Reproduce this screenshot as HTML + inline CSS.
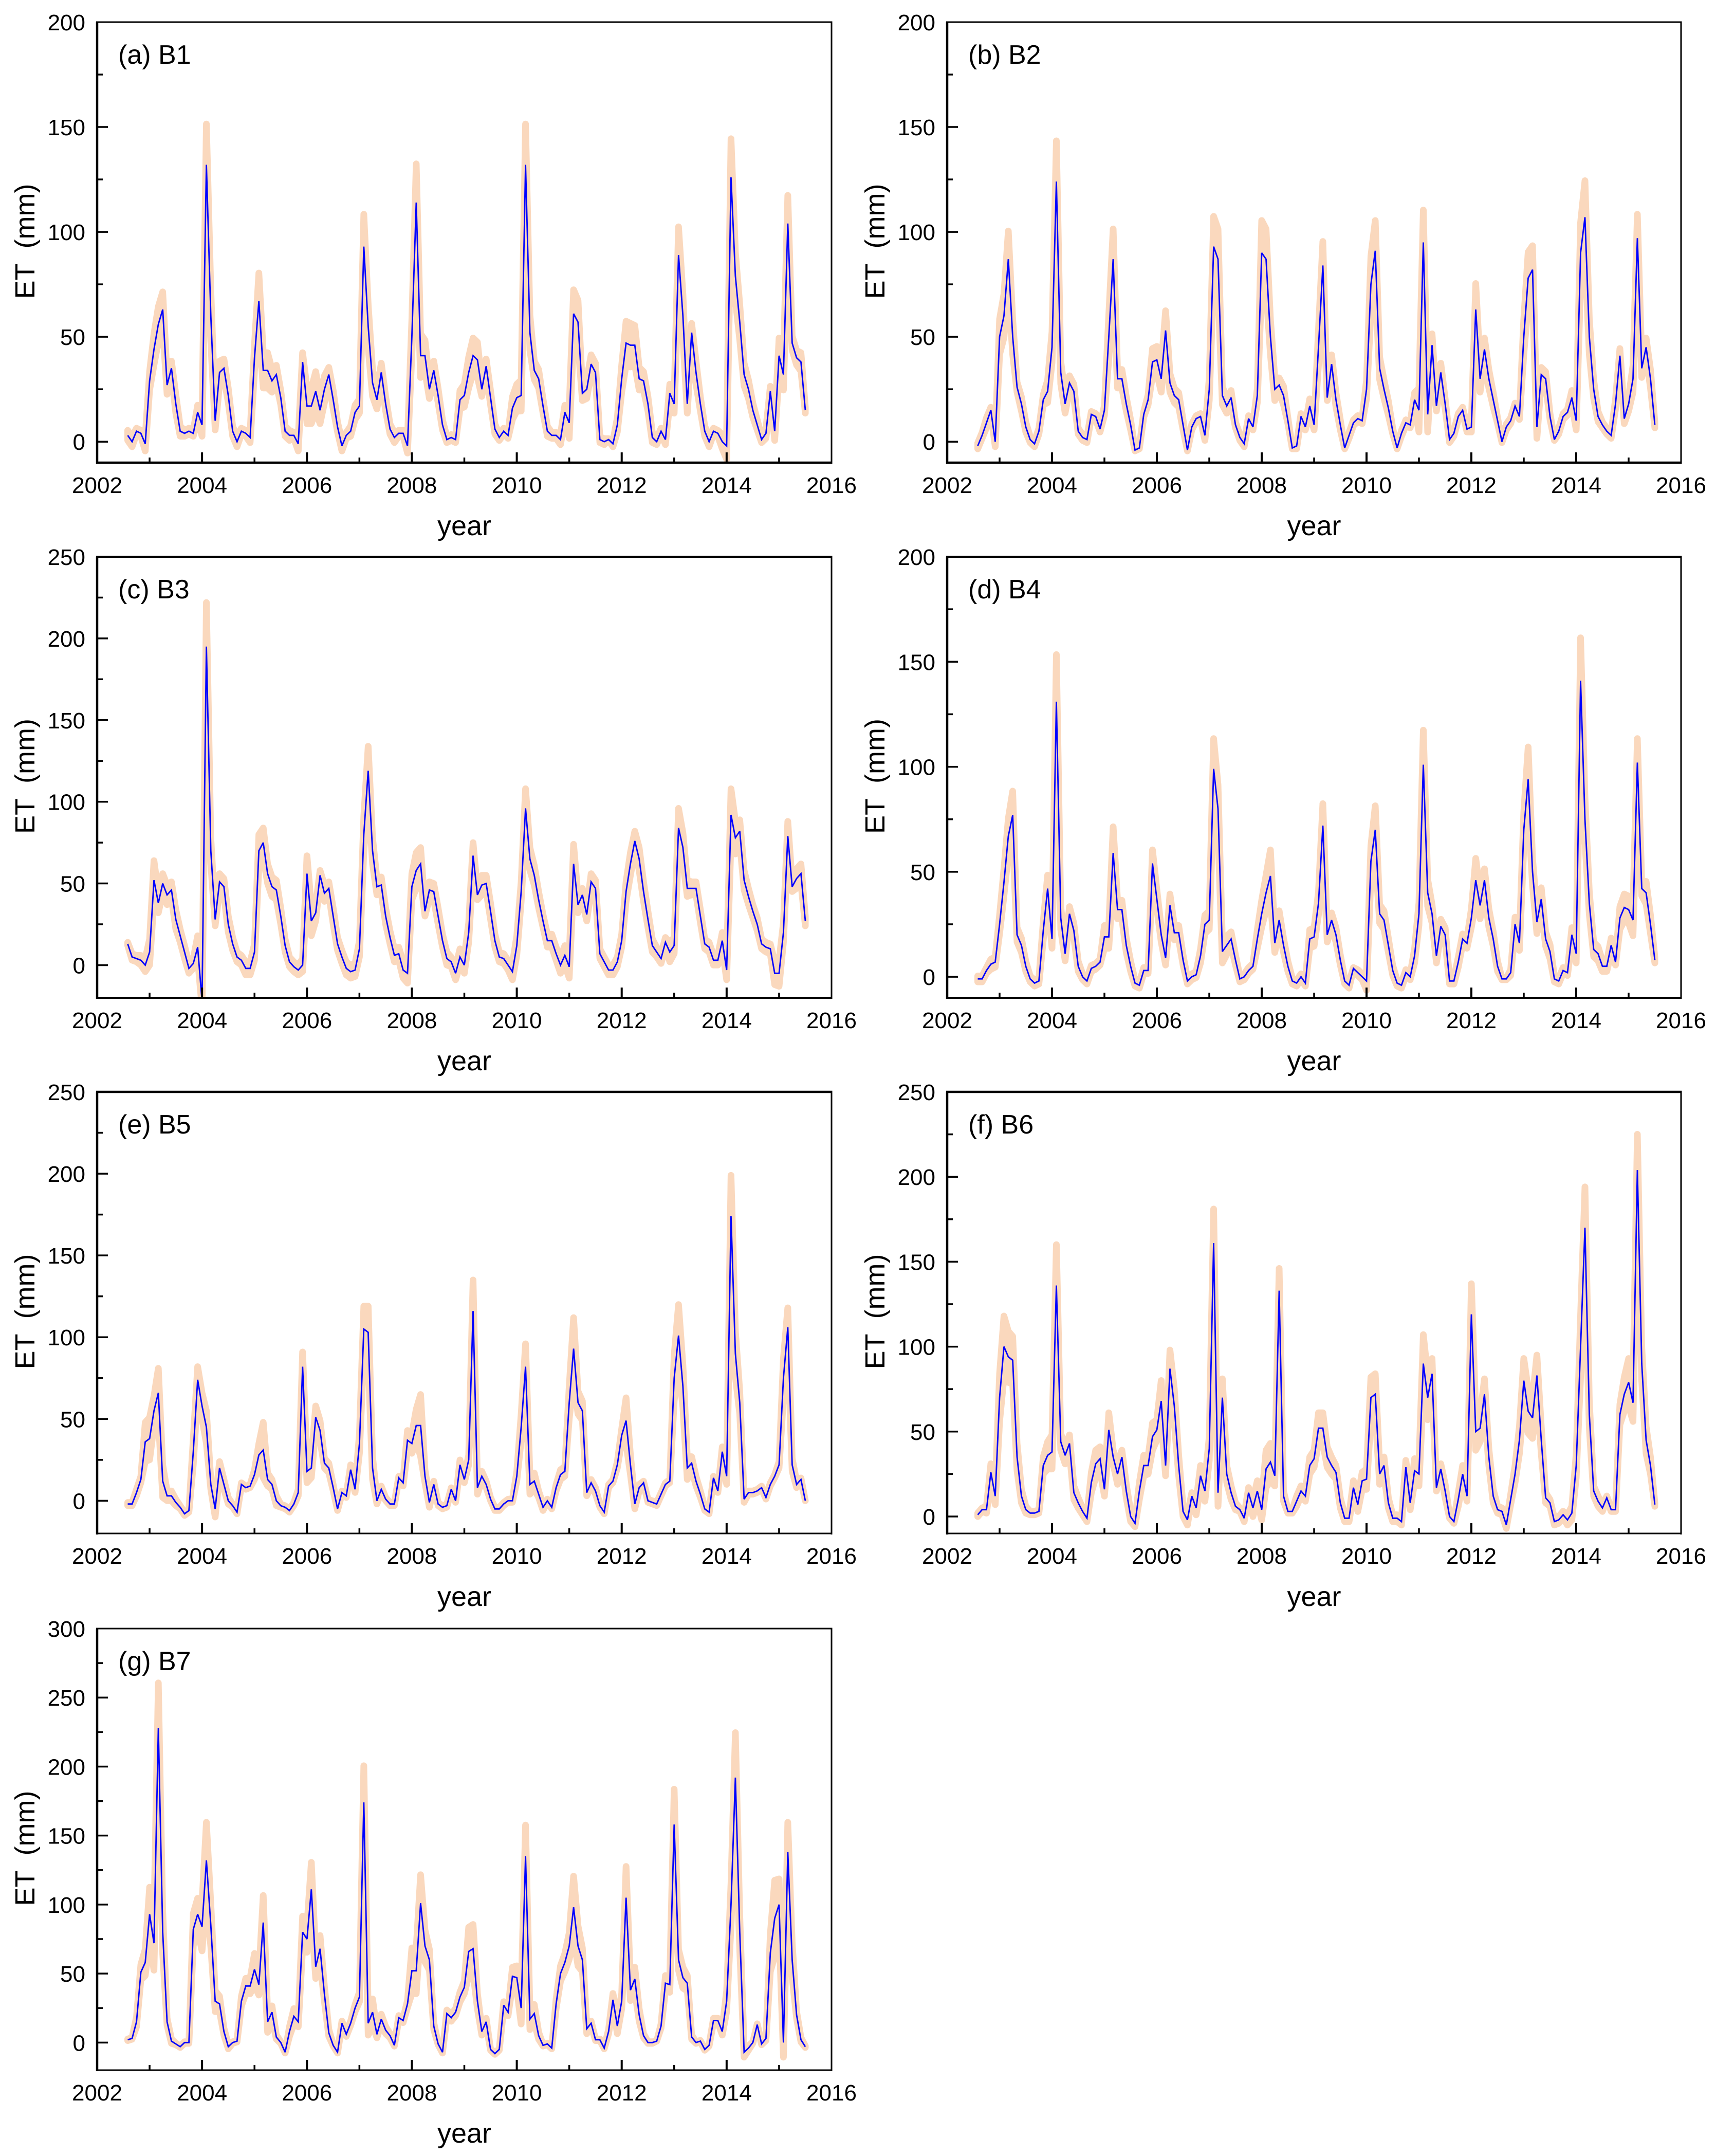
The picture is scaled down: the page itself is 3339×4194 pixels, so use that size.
<!DOCTYPE html>
<html lang="en">
<head>
<meta charset="utf-8">
<title>Monthly ET for basins B1 to B7</title>
<style>
html,body{margin:0;padding:0;background:#fff;}
svg{display:block;font-family:"Liberation Sans",Arial,sans-serif;}
</style>
</head>
<body>
<svg id="figure" xmlns="http://www.w3.org/2000/svg" width="3339" height="4194" viewBox="0 0 3339 4194"></svg>
<script>
const xTickLabels = [2002,2004,2006,2008,2010,2012,2014,2016];
const xMinorYears = [2003,2005,2007,2009,2011,2013,2015];
const firstYear = 2002;
const firstMonthIndex = 7;

const valuesB1 = [3,0,5,4,-1,
29,44,56,63,27,35,18,5,4,5,4,14,
8,132,60,10,33,35,22,5,0,5,4,2,
40,67,34,34,29,32,21,5,3,3,-1,38,
17,17,24,15,25,32,20,7,-2,3,5,14,
17,93,55,28,20,33,18,6,2,4,4,-2,
50,114,41,41,25,34,22,8,1,2,1,20,
22,33,41,39,25,36,21,6,2,5,3,16,
21,22,132,52,34,30,17,5,3,3,1,14,
9,61,57,23,25,37,33,1,0,1,-1,8,
30,47,46,46,30,29,18,2,0,5,1,23,
18,89,60,18,52,33,18,5,0,5,4,0,
-2,126,79,57,32,25,15,8,1,4,24,5,
41,32,104,47,40,38,15];
const errorsB1 = [4,4,3,3,5,
6,9,10,10,6,5,6,4,3,3,3,5,
7,21,14,6,7,6,5,4,4,3,3,4,
8,15,10,10,7,6,5,4,4,3,5,6,
10,10,11,8,8,5,6,4,4,3,4,5,
5,17,12,8,6,6,5,4,4,3,3,5,
10,20,12,9,6,6,5,4,3,3,3,6,
7,9,10,10,5,5,5,4,3,3,3,7,
8,9,21,10,6,6,5,4,3,3,4,5,
9,13,12,5,6,6,6,3,3,2,3,5,
8,12,12,11,7,6,5,4,3,3,4,6,
6,15,12,6,6,7,5,4,4,3,3,5,
8,20,13,10,7,6,5,4,3,4,4,6,
10,9,15,5,5,6,3];

const valuesB2 = [-2,3,9,15,0,
50,60,87,50,26,18,7,1,-1,5,20,24,
45,124,33,18,28,24,5,2,1,13,12,6,
15,50,87,30,30,18,8,-4,-3,13,20,38,
39,30,53,28,22,20,8,-4,7,11,12,3,
25,93,87,22,17,21,8,2,-1,11,7,22,
90,87,50,25,27,22,10,-3,-2,12,7,17,
8,45,84,21,37,20,8,-3,3,9,11,10,
25,75,91,35,25,16,5,-3,4,9,8,20,
15,95,13,46,17,33,18,1,4,12,15,6,
7,63,30,44,30,20,10,0,7,10,17,12,
50,78,82,7,32,30,12,1,5,12,14,21,
10,90,107,50,25,12,8,5,3,18,41,11,
18,30,97,35,45,30,8];
const errorsB2 = [3,3,4,3,4,
10,12,15,10,4,5,4,3,3,3,4,7,
9,21,7,6,5,5,3,3,3,3,3,3,
4,12,16,6,6,5,4,2,2,3,4,8,
8,8,11,6,5,5,4,2,3,3,3,4,
7,16,16,6,5,5,3,3,3,3,3,5,
17,16,10,7,5,6,3,2,3,3,3,5,
4,10,13,3,6,5,4,2,3,3,3,3,
6,15,16,7,6,5,3,2,3,3,3,5,
12,17,10,7,4,6,4,3,3,3,3,3,
4,14,8,7,6,5,3,2,3,3,3,3,
10,14,13,7,5,5,3,2,3,3,3,5,
6,16,19,10,6,4,3,3,3,4,5,4,
5,8,13,6,6,6,3];

const valuesB3 = [13,5,4,3,0,
8,52,38,50,43,46,28,18,8,-2,1,11,
-22,195,70,28,51,48,25,13,5,3,-2,-2,
8,70,75,56,48,46,30,12,2,-1,-3,0,
56,27,32,55,44,47,30,13,5,-2,-4,-3,
10,80,119,70,48,49,30,17,6,7,-3,-5,
48,58,62,33,46,45,30,15,4,2,-5,5,
0,20,67,43,49,50,33,15,5,4,0,-4,
12,45,96,65,55,40,27,15,15,7,0,6,
-1,62,37,43,31,51,47,7,2,-3,-3,2,
15,45,62,76,65,45,28,12,8,4,14,8,
12,84,72,47,47,47,30,13,11,3,3,15,
-3,92,78,82,52,42,33,25,13,11,10,-5,
-5,20,79,48,53,56,27];
const errorsB3 = [3,4,4,5,6,
10,14,8,8,8,7,8,6,6,5,5,9,
6,29,10,6,7,7,7,6,5,5,6,6,
7,12,11,8,8,8,7,6,5,5,5,6,
13,11,7,5,7,6,7,6,6,6,6,6,
7,13,17,10,7,7,7,6,6,6,7,8,
10,13,12,5,7,7,7,6,6,5,6,7,
7,8,10,5,8,7,7,6,5,5,5,7,
8,8,14,9,8,7,6,6,6,6,7,8,
9,14,7,6,6,7,7,5,5,5,5,5,
6,8,9,8,9,8,7,6,5,5,5,8,
7,14,11,7,6,6,6,5,5,5,5,7,
8,18,12,9,8,7,6,6,5,5,5,9,
10,8,11,5,8,8,5];

const valuesB4 = [-1,-1,3,6,7,
25,45,67,77,20,15,5,-1,-3,-2,22,42,
18,131,28,11,30,22,5,0,-2,4,5,7,
19,19,59,32,32,15,5,-3,-4,3,3,54,
37,20,9,34,21,21,8,-2,0,1,10,25,
27,99,80,12,15,18,8,-1,0,3,5,18,
30,40,48,16,27,15,5,-2,-3,0,-3,18,
19,35,72,20,27,20,8,-2,-4,4,2,0,
-2,55,70,30,27,15,3,-3,-4,2,0,10,
30,101,40,30,10,24,20,-2,-2,7,18,16,
28,46,34,46,28,18,5,-1,-1,2,25,16,
70,94,50,26,37,18,12,-1,-2,3,2,20,
11,141,75,35,13,11,5,5,15,7,28,33,
32,27,102,42,40,25,8];
const errorsB4 = [3,3,3,4,4,
6,8,10,13,5,5,4,3,3,3,6,8,
6,24,7,5,5,5,4,3,3,3,3,3,
7,7,14,6,6,5,4,3,3,3,3,8,
6,5,5,7,5,5,4,3,3,3,5,6,
6,16,13,7,6,5,4,3,3,3,3,6,
8,10,14,6,6,5,4,3,3,3,3,6,
6,7,12,5,5,5,4,3,3,2,3,3,
6,9,13,6,6,5,4,3,3,3,3,5,
7,18,8,6,5,5,5,3,3,4,4,4,
6,12,8,7,6,5,4,2,2,3,5,5,
10,17,8,7,7,5,5,3,3,3,3,5,
6,22,12,7,5,5,4,4,5,3,7,8,
8,9,13,5,7,6,3];

const valuesB5 = [-2,-2,5,13,36,
38,55,66,12,3,3,-1,-4,-8,-6,30,74,
58,45,10,-5,20,10,0,-3,-7,10,8,9,
16,28,31,13,10,0,-3,-4,-6,-2,5,82,
18,20,51,43,23,20,8,-5,5,3,19,7,
35,105,103,20,0,7,1,-2,-2,14,11,37,
35,46,46,15,-1,10,-2,-4,-3,7,0,22,
13,25,116,8,15,10,1,-5,-5,-2,0,0,
15,45,82,10,12,4,-4,0,-4,8,16,18,
60,93,60,55,5,11,6,-3,-7,9,12,22,
40,49,22,-2,8,11,0,-1,-2,4,10,12,
75,101,70,20,23,12,4,-5,-7,14,6,30,
15,174,90,60,1,5,5,6,8,2,10,15,
22,75,106,22,10,13,0];
const errorsB5 = [3,3,4,4,14,
15,11,17,12,5,5,4,3,3,3,10,10,
10,12,5,7,6,5,4,3,3,3,3,3,
5,9,19,6,5,5,3,3,3,3,4,11,
9,8,9,8,5,5,4,3,3,3,5,4,
8,16,18,9,4,4,3,3,3,3,4,8,
8,12,21,6,5,4,3,3,3,3,3,5,
4,5,21,6,5,4,3,3,3,3,3,3,
5,10,16,8,7,4,4,3,3,4,5,5,
12,21,9,8,4,4,4,3,3,3,3,4,
6,16,8,5,4,3,3,3,3,3,3,3,
16,21,15,9,6,5,4,3,3,3,3,5,
7,27,16,9,4,3,3,3,3,3,3,3,
4,14,14,6,4,3,2];

const valuesB6 = [1,4,4,26,12,
70,100,94,92,35,12,4,2,2,3,30,36,
38,136,44,36,43,14,8,3,-1,20,31,34,
16,51,35,25,35,15,0,-4,15,30,30,47,
51,68,30,87,65,30,3,-2,12,5,24,15,
40,161,14,70,25,14,6,4,-1,14,5,15,
4,28,32,24,133,12,3,3,9,15,12,30,
34,52,52,35,30,26,8,-1,-1,17,7,21,
22,70,72,25,30,8,-1,-1,-3,29,8,27,
25,90,70,84,17,28,15,0,-3,10,25,12,
119,50,52,72,35,12,4,3,-5,10,25,45,
80,62,58,83,45,11,8,-3,-2,1,-2,2,
30,100,170,60,15,9,5,11,4,4,60,72,
79,67,204,90,45,30,7];
const errorsB6 = [3,3,4,7,7,
16,20,17,16,10,6,4,3,3,3,7,10,
12,26,7,7,7,6,5,4,4,8,10,9,
6,12,6,8,6,6,5,4,7,8,7,10,
8,14,8,13,12,8,5,5,4,6,8,8,
9,22,10,13,7,6,4,3,4,5,7,8,
8,13,13,8,15,5,3,3,5,5,5,7,
7,11,11,8,7,6,5,4,4,6,6,7,
8,14,14,8,7,5,4,4,4,6,6,9,
9,19,15,11,4,5,6,3,3,6,7,5,
20,13,10,11,7,6,4,4,4,5,7,10,
15,15,14,14,10,5,4,4,4,4,5,6,
9,20,26,10,5,5,4,3,3,3,8,12,
16,13,23,12,10,7,3];

const valuesB7 = [2,3,15,51,58,
93,72,228,80,15,1,-1,-3,0,0,82,93,
84,132,85,30,28,8,-3,0,1,30,41,41,
53,42,87,15,22,4,0,-7,8,19,15,80,
75,111,55,68,35,7,-2,-7,14,6,14,25,
33,174,14,22,6,17,9,5,-2,18,16,28,
52,52,101,70,60,12,-1,-7,21,18,22,33,
40,66,68,30,8,15,-5,-8,-5,27,22,48,
47,25,135,17,21,5,-2,-1,-4,28,50,58,
70,98,70,60,10,14,2,2,-4,8,31,12,
30,105,38,46,20,5,0,0,1,12,43,42,
158,60,47,43,4,0,1,-5,-2,16,16,8,
30,100,192,80,-7,-4,0,13,-1,3,65,90,
100,0,138,60,20,2,-3];
const errorsB7 = [3,3,6,8,12,
22,22,35,18,5,4,3,3,3,3,14,14,
20,30,18,10,8,5,4,3,3,6,8,8,
14,10,22,10,7,4,3,3,6,8,6,14,
12,22,11,12,8,5,3,3,4,4,4,5,
6,29,11,12,5,6,5,4,3,4,4,5,
19,19,23,14,10,5,3,3,5,5,5,6,
7,20,20,8,5,5,3,3,3,5,5,9,
11,14,25,10,9,5,3,3,3,6,8,9,
12,25,17,11,6,4,3,3,3,4,7,8,
8,25,10,11,7,4,3,3,2,4,8,8,
28,10,10,8,4,3,3,3,3,4,4,5,
10,18,35,15,6,4,3,3,3,4,16,30,
21,13,24,15,5,4,3];

const yTicksA = [0,50,100,150,200];
const yTicksC = [0,50,100,150,200,250];
const yTicksG = [0,50,100,150,200,250,300];

const panels = [
  {key:'b1', title:'(a) B1', values:valuesB1, errors:errorsB1, ticks:yTicksA, yMin:-10, yMax:200, left:189,  right:1618, top:43,   bottom:900,  topWidth:3,   bottomWidth:4.5},
  {key:'b2', title:'(b) B2', values:valuesB2, errors:errorsB2, ticks:yTicksA, yMin:-10, yMax:200, left:1843, right:3271, top:43,   bottom:900,  topWidth:3,   bottomWidth:4.5},
  {key:'b3', title:'(c) B3', values:valuesB3, errors:errorsB3, ticks:yTicksC, yMin:-20, yMax:250, left:189,  right:1618, top:1083, bottom:1941, topWidth:4,   bottomWidth:4},
  {key:'b4', title:'(d) B4', values:valuesB4, errors:errorsB4, ticks:yTicksA, yMin:-10, yMax:200, left:1843, right:3271, top:1083, bottom:1941, topWidth:4,   bottomWidth:4},
  {key:'b5', title:'(e) B5', values:valuesB5, errors:errorsB5, ticks:yTicksC, yMin:-20, yMax:250, left:189,  right:1618, top:2124, bottom:2983, topWidth:4.5, bottomWidth:3},
  {key:'b6', title:'(f) B6', values:valuesB6, errors:errorsB6, ticks:yTicksC, yMin:-10, yMax:250, left:1843, right:3271, top:2124, bottom:2983, topWidth:4.5, bottomWidth:3},
  {key:'b7', title:'(g) B7', values:valuesB7, errors:errorsB7, ticks:yTicksG, yMin:-20, yMax:300, left:189,  right:1618, top:3168, bottom:4027, topWidth:3,   bottomWidth:3}
];

const NS = 'http://www.w3.org/2000/svg';
const root = document.getElementById('figure');
const BAND_RADIUS = 6.5;

function make(tag, attrs, parent) {
  const el = document.createElementNS(NS, tag);
  for (const k in attrs) el.setAttribute(k, attrs[k]);
  parent.appendChild(el);
  return el;
}

function drawPanel(p) {
  const xScale = v => p.left + (v - 2002) / 14 * (p.right - p.left);
  const yScale = v => p.bottom - (v - p.yMin) / (p.yMax - p.yMin) * (p.bottom - p.top);
  const monthX = i => xScale(firstYear + (firstMonthIndex + i) / 12);

  const g = make('g', {}, root);
  
  

  const clipId = 'clip-' + p.key;
  const defs = make('defs', {}, g);
  const clip = make('clipPath', {id: clipId}, defs);
  make('rect', {x: p.left, y: p.top, width: p.right - p.left, height: p.bottom - p.top}, clip);

  const upper = [];
  const lower = [];
  p.values.forEach((v, i) => {
    let yUp = yScale(v + p.errors[i]) + BAND_RADIUS;
    let yLow = yScale(v - p.errors[i]) - BAND_RADIUS;
    if (yUp > yLow) { yUp = yLow = (yUp + yLow) / 2; }
    upper.push(monthX(i).toFixed(1) + ',' + yUp.toFixed(1));
    lower.unshift(monthX(i).toFixed(1) + ',' + yLow.toFixed(1));
  });
  const band = make('polygon', {
    points: upper.concat(lower).join(' '),
    fill: '#fad8bd', stroke: '#fad8bd', 'stroke-width': BAND_RADIUS * 2,
    'stroke-linejoin': 'round', 'clip-path': 'url(#' + clipId + ')'
  }, g);
  
  

  const pts = p.values.map((v, i) => monthX(i).toFixed(1) + ',' + yScale(v).toFixed(1)).join(' ');
  const line = make('polyline', {
    points: pts, fill: 'none', stroke: '#0000ff', 'stroke-width': 2.8,
    'stroke-linejoin': 'miter', 'stroke-miterlimit': 3, 'clip-path': 'url(#' + clipId + ')'
  }, g);
  
  

  const axes = make('g', {stroke: '#000', fill: 'none'}, g);
  
  
  make('line', {x1: p.left - 2, x2: p.right + 1.5, y1: p.top, y2: p.top, 'stroke-width': p.topWidth}, axes);
  make('line', {x1: p.right, x2: p.right, y1: p.top, y2: p.bottom + 2, 'stroke-width': 3}, axes);
  make('line', {x1: p.left, x2: p.left, y1: p.top, y2: p.bottom + 2, 'stroke-width': 4.5}, axes);
  make('line', {x1: p.left - 2, x2: p.right + 1.5, y1: p.bottom, y2: p.bottom, 'stroke-width': p.bottomWidth}, axes);

  xTickLabels.forEach(year => {
    const x = xScale(year);
    if (year !== 2002 && year !== 2016) {
      make('line', {x1: x, x2: x, y1: p.bottom, y2: p.bottom - 20, 'stroke-width': 4}, axes);
    }
    const label = make('text', {x: x, y: p.bottom + 59, 'text-anchor': 'middle', 'font-size': 44, fill: '#000'}, g);
    label.textContent = String(year);
    
    
  });
  xMinorYears.forEach(year => {
    const x = xScale(year);
    make('line', {x1: x, x2: x, y1: p.bottom, y2: p.bottom - 10, 'stroke-width': 3.5}, axes);
  });

  p.ticks.forEach(t => {
    const y = yScale(t);
    if (t !== p.yMax) {
      make('line', {x1: p.left, x2: p.left + 21, y1: y, y2: y, 'stroke-width': 3.5}, axes);
      make('line', {x1: p.left, x2: p.left + 11, y1: yScale(t + 25), y2: yScale(t + 25), 'stroke-width': 3.5}, axes);
    }
    const label = make('text', {x: p.left - 23, y: y + 16, 'text-anchor': 'end', 'font-size': 44, fill: '#000'}, g);
    label.textContent = String(t);
    
    
  });

  const title = make('text', {x: p.left + 41, y: p.top + 81, 'font-size': 52, fill: '#000'}, g);
  title.textContent = p.title;
  
  

  const yearLabel = make('text', {x: (p.left + p.right) / 2, y: p.bottom + 141, 'text-anchor': 'middle', 'font-size': 54, fill: '#000'}, g);
  yearLabel.textContent = 'year';
  
  

  const cy = (p.top + p.bottom) / 2 - 2;
  const yLabel = make('text', {x: 0, y: 0, 'text-anchor': 'middle', 'font-size': 54, fill: '#000', style: 'white-space:pre', transform: 'translate(' + (p.left - 122) + ',' + cy + ') rotate(-90)'}, g);
  yLabel.textContent = 'ET  (mm)';
  
  
}

panels.forEach(drawPanel);
</script>
</body>
</html>
